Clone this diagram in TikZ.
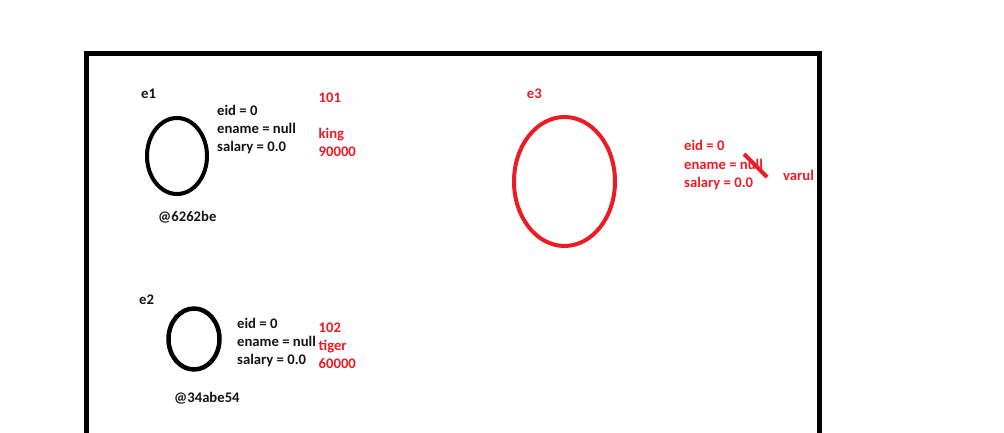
\documentclass[tikz,border=0pt]{standalone}
\usepackage{fontspec}
\setmainfont{Carlito}
\usetikzlibrary{positioning}
\definecolor{paintred}{RGB}{237,28,36}
\definecolor{painttext}{RGB}{20,20,20}

\begin{document}
\begin{tikzpicture}[x=1pt, y=-1pt,
    lbl/.style={anchor=base west, inner sep=0pt, text=painttext, font=\fontsize{14.67}{18}\selectfont\bfseries},
    redlbl/.style={lbl, text=paintred}]
\useasboundingbox (0,0) rectangle (1004,433);
\draw[line width=5pt, miter limit=10] (86.5,440) -- (86.5,53.5) -- (819.8,53.5) -- (819.8,440);

% object e1
\node[lbl] (e1name) at (141,99) {e1};
\draw[line width=4pt] (177,156) ellipse [x radius=30pt, y radius=38pt];
\node[lbl] (e1eid) at (217,116) {eid = 0};
\node[lbl] (e1ename) at (217,134) {ename = null};
\node[lbl] (e1salary) at (217,152) {salary = 0.0};
\node[redlbl] (e1id) at (318.5,103) {101};
\node[redlbl] (e1king) at (318.5,139) {king};
\node[redlbl] (e1pay) at (318.5,157) {90000};
\node[lbl] (e1addr) at (158,221) {@6262be};

% object e2
\node[lbl] (e2name) at (139,304) {e2};
\draw[line width=4.5pt] (194,339) ellipse [x radius=25.5pt, y radius=30.5pt];
\node[lbl] (e2eid) at (237,328) {eid = 0};
\node[lbl] (e2ename) at (237,346) {ename = null};
\node[lbl] (e2salary) at (237,364) {salary = 0.0};
\node[redlbl] (e2id) at (318.5,332) {102};
\node[redlbl] (e2tiger) at (318.5,350) {tiger};
\node[redlbl] (e2pay) at (318.5,368) {60000};
\node[lbl] (e2addr) at (174,402) {@34abe54};

% object e3
\node[redlbl] (e3name) at (526.7,99) {e3};
\draw[paintred, line width=4pt] (564.5,181.5) ellipse [x radius=50.5pt, y radius=64.5pt];
\node[redlbl] (e3eid) at (684,151) {eid = 0};
\node[redlbl] (e3ename) at (684,169) {ename = null};
\node[redlbl] (e3salary) at (684,187) {salary = 0.0};
\draw[paintred, line width=4pt] (744,154) -- (767,177);
\node[redlbl] (e3varul) at (783,180) {varul};
\end{tikzpicture}
\end{document}
